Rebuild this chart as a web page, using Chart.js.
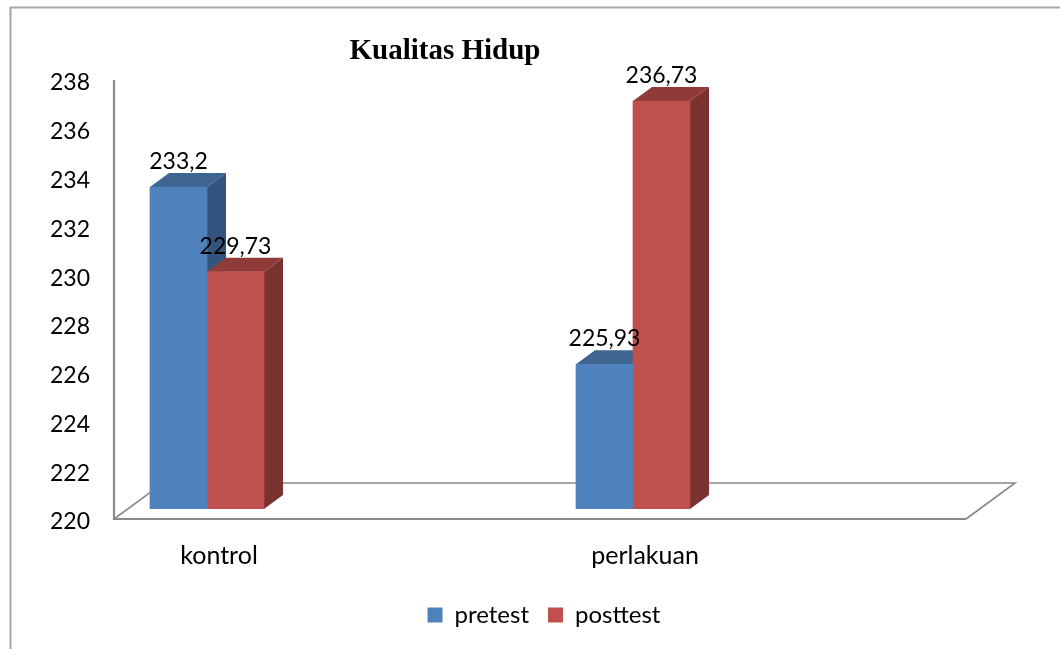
<!DOCTYPE html>
<html>
<head>
<meta charset="utf-8">
<style>html,body{margin:0;padding:0;background:#fff}canvas{display:block}</style>
<script src="https://cdn.jsdelivr.net/npm/chart.js@4"></script>
</head>
<body>
<canvas id="c" width="1060" height="649"></canvas>
<script>
const categories = ['kontrol', 'perlakuan'];
const categoryPositions = [0, 1];
const seriesNames = ['pretest', 'posttest'];
const pretest = [233.2, 225.93];
const posttest = [229.73, 236.73];
const valueLabelsPretest = ['233,2', '225,93'];
const valueLabelsPosttest = ['229,73', '236,73'];
const yTicks = [220, 222, 224, 226, 228, 230, 232, 234, 236, 238];
const chartTitle = 'Kualitas Hidup';

const FONT = 'Lato';
const frontColors = ['#4F81BD', '#C0504D'];
const topColors = ['#3E6490', '#8E3B39'];
const sideColors = ['#33557D', '#7A3230'];
const GRAY = '#8A8A8A';
const BAR_DX = 19, BAR_DY = 14, FLOOR_DX = 49, FLOOR_DY = 36;
const AXIS_SHIFT = 10;

const decor = {
  id: 'decor',
  beforeDatasetsDraw(chart) {
    const { ctx, chartArea: a } = chart;
    const y0 = a.bottom + AXIS_SHIFT;
    const x0 = a.left;
    const xEnd = 966;
    ctx.save();
    ctx.lineCap = 'butt';
    ctx.strokeStyle = '#A6A6A6';
    ctx.lineWidth = 2;
    ctx.beginPath();
    ctx.moveTo(10.5, 649); ctx.lineTo(10.5, 7.5); ctx.lineTo(1060, 7.5);
    ctx.stroke();
    ctx.strokeStyle = GRAY;
    ctx.lineWidth = 1.6;
    ctx.beginPath();
    ctx.moveTo(x0, y0); ctx.lineTo(x0 + FLOOR_DX, y0 - FLOOR_DY);
    ctx.lineTo(xEnd + FLOOR_DX, y0 - FLOOR_DY); ctx.lineTo(xEnd, y0);
    ctx.stroke();
    ctx.lineWidth = 2.2;
    ctx.beginPath();
    ctx.moveTo(x0, a.top + AXIS_SHIFT); ctx.lineTo(x0, y0); ctx.lineTo(xEnd, y0);
    ctx.stroke();
    chart.data.datasets.forEach((ds, di) => {
      chart.getDatasetMeta(di).data.forEach(bar => {
        const l = bar.x - bar.width / 2, r = bar.x + bar.width / 2, t = bar.y, b = bar.base;
        ctx.fillStyle = sideColors[di];
        ctx.beginPath();
        ctx.moveTo(r, t); ctx.lineTo(r + BAR_DX, t - BAR_DY); ctx.lineTo(r + BAR_DX, b - BAR_DY); ctx.lineTo(r, b);
        ctx.closePath(); ctx.fill();
        ctx.fillStyle = topColors[di];
        ctx.beginPath();
        ctx.moveTo(l, t); ctx.lineTo(l + BAR_DX, t - BAR_DY); ctx.lineTo(r + BAR_DX, t - BAR_DY); ctx.lineTo(r, t);
        ctx.closePath(); ctx.fill();
      });
    });
    ctx.restore();
  },
  afterDatasetsDraw(chart) {
    const { ctx } = chart;
    const texts = [valueLabelsPretest, valueLabelsPosttest];
    ctx.save();
    ctx.fillStyle = '#000';
    ctx.textAlign = 'center';
    ctx.textBaseline = 'alphabetic';
    ctx.font = '23px ' + FONT;
    chart.data.datasets.forEach((ds, di) => {
      chart.getDatasetMeta(di).data.forEach((bar, i) => {
        ctx.fillText(texts[di][i], bar.x, bar.y - 18);
      });
    });
    ctx.font = 'bold 29px "Liberation Serif"';
    ctx.fillText(chartTitle, 445, 59);
    ctx.restore();
  }
};

const makeData = arr => arr.map((v, i) => ({ x: categoryPositions[i], y: v }));

new Chart(document.getElementById('c'), {
  type: 'bar',
  data: {
    datasets: [
      { label: seriesNames[0], data: makeData(pretest), base: yTicks[0], backgroundColor: frontColors[0], barThickness: 57 },
      { label: seriesNames[1], data: makeData(posttest), base: yTicks[0], backgroundColor: frontColors[1], barThickness: 57 }
    ]
  },
  options: {
    responsive: false,
    animation: false,
    layout: { padding: { left: 38, right: 10, top: 70, bottom: 12 } },
    plugins: {
      title: { display: false },
      tooltip: { enabled: false },
      legend: {
        display: true,
        position: 'bottom',
        labels: { color: '#000', font: { family: FONT, size: 24 }, boxWidth: 15, boxHeight: 15, padding: 19 }
      }
    },
    scales: {
      x: {
        type: 'linear',
        offset: false,
        min: -93 / 426,
        max: -93 / 426 + 936 / 426,
        afterFit(s) { s.height = 75; },
        afterBuildTicks(s) { s.ticks = categoryPositions.map(v => ({ value: v })); },
        grid: { display: false, drawTicks: false },
        border: { display: false },
        ticks: {
          autoSkip: false,
          maxRotation: 0,
          padding: 32,
          labelOffset: 12,
          color: '#000',
          font: { family: FONT, size: 25 },
          callback: v => categories[v]
        }
      },
      y: {
        min: 220,
        max: 238,
        afterFit(s) { s.width = 76; },
        afterBuildTicks(s) { s.ticks = yTicks.map(v => ({ value: v })); },
        grid: { display: false, drawTicks: false },
        border: { display: false },
        ticks: {
          padding: 24,
          labelOffset: 13,
          color: '#000',
          font: { family: FONT, size: 23 }
        }
      }
    }
  },
  plugins: [decor]
});
</script>
</body>
</html>
